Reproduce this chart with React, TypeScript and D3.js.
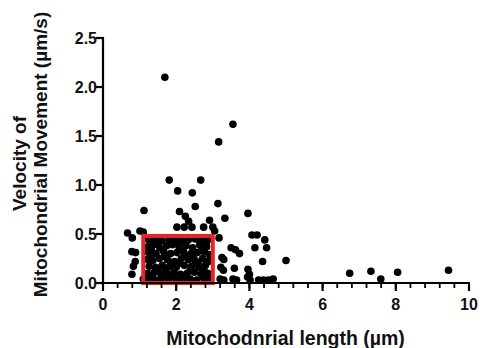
import React from "react";
import * as d3 from "d3";

const xTicks = [0, 2, 4, 6, 8, 10];
const xMinorTicks = d3.range(0, 10.001, 0.4);
const yTicks = [0, 0.5, 1.0, 1.5, 2.0, 2.5];

// points outside the highlighted box [length µm, velocity µm/s]
const outerPoints: [number, number][] = [
  [1.69, 2.1], [3.55, 1.62], [3.16, 1.44], [1.81, 1.05], [2.67, 1.05], [2.04, 0.94], [2.44, 0.92],
  [2.52, 0.78], [3.14, 0.81], [1.12, 0.74], [2.09, 0.73], [2.25, 0.68], [2.34, 0.63], [2.91, 0.64],
  [3.33, 0.66], [3.96, 0.71], [2.02, 0.57], [2.22, 0.57], [2.43, 0.57], [2.75, 0.57], [3.0, 0.57],
  [3.05, 0.53], [3.17, 0.46], [0.67, 0.51], [0.8, 0.46], [1.01, 0.53], [1.1, 0.52], [4.07, 0.49],
  [4.21, 0.49], [4.42, 0.44], [4.15, 0.36], [4.47, 0.36], [3.5, 0.36], [3.62, 0.34], [3.73, 0.3],
  [3.3, 0.24], [3.25, 0.26], [4.36, 0.22], [5.0, 0.23], [3.59, 0.15], [3.96, 0.14], [3.22, 0.16],
  [3.29, 0.13], [0.79, 0.32], [0.89, 0.31], [0.88, 0.22], [0.83, 0.17], [0.79, 0.09], [1.1, 0.04],
  [4.0, 0.09], [6.74, 0.1], [7.32, 0.12], [8.05, 0.11], [9.44, 0.13], [7.59, 0.04],
  [3.2, 0.04], [3.3, 0.03], [3.55, 0.04], [3.65, 0.03], [3.95, 0.06], [4.02, 0.03], [4.25, 0.03],
  [4.38, 0.03], [4.52, 0.03], [4.65, 0.04],
];

// dense cluster inside the highlighted box
const boxPoints: [number, number][] = [
  [1.25, 0.44], [1.43, 0.45], [1.6, 0.43], [1.8, 0.44], [1.97, 0.45], [2.15, 0.43], [2.33, 0.44], [2.52, 0.45], [2.7, 0.43], [2.86, 0.44],
  [1.22, 0.37], [1.38, 0.39], [1.55, 0.36], [1.74, 0.38], [1.9, 0.39], [2.08, 0.37], [2.27, 0.38], [2.45, 0.36], [2.64, 0.39], [2.83, 0.37],
  [1.24, 0.31], [1.45, 0.3], [1.66, 0.32], [1.85, 0.3], [2.02, 0.31], [2.2, 0.32], [2.4, 0.3], [2.58, 0.31], [2.77, 0.32], [2.9, 0.29],
  [1.21, 0.24], [1.36, 0.23], [1.54, 0.25], [1.76, 0.24], [1.96, 0.22], [2.14, 0.25], [2.34, 0.24], [2.52, 0.23], [2.72, 0.25], [2.88, 0.22],
  [1.26, 0.17], [1.44, 0.16], [1.62, 0.18], [1.82, 0.17], [2.0, 0.16], [2.22, 0.18], [2.42, 0.17], [2.62, 0.16], [2.8, 0.18],
  [1.22, 0.1], [1.4, 0.11], [1.58, 0.09], [1.76, 0.1], [1.94, 0.11], [2.12, 0.09], [2.3, 0.1], [2.5, 0.11], [2.68, 0.09], [2.86, 0.1],
  [1.25, 0.04], [1.44, 0.03], [1.62, 0.05], [1.8, 0.04], [2.0, 0.03], [2.18, 0.05], [2.38, 0.04], [2.56, 0.03], [2.75, 0.05], [2.9, 0.04],
  [1.32, 0.34], [1.68, 0.27], [2.06, 0.2], [2.46, 0.27], [2.76, 0.13], [1.5, 0.13], [2.26, 0.06],
  [1.34, 0.07], [1.7, 0.14], [1.88, 0.21], [2.24, 0.28], [2.6, 0.2], [2.82, 0.41], [1.52, 0.41],
  [2.38, 0.13], [2.04, 0.41], [1.3, 0.27], [2.7, 0.35], [1.92, 0.07],
];

const highlightX = [1.1, 3.0];
const highlightY = [0, 0.48];

export default function App() {
  const left = 103, right = 469, top = 38, bottom = 283;
  const x = d3.scaleLinear().domain([0, 10]).range([left, right]);
  const y = d3.scaleLinear().domain([0, 2.5]).range([bottom, top]);
  const font = "'Liberation Sans', Arial, sans-serif";
  const all = [...outerPoints, ...boxPoints];
  const ink = "#111";
  return (
    <svg width={480} height={348} style={{ position: "absolute", left: 0, top: 0, background: "#fff" }}>
      {all.map(([a, b], i) => (
        <circle key={i} cx={x(a)} cy={y(b)} r={3.8} fill="#000" />
      ))}
      <rect
        x={x(highlightX[0])}
        y={y(highlightY[1])}
        width={x(highlightX[1]) - x(highlightX[0])}
        height={y(highlightY[0]) - y(highlightY[1])}
        fill="none"
        stroke="#e5232b"
        strokeWidth={4}
      />
      {/* axes */}
      <line x1={left} x2={left} y1={y(2.5) - 1} y2={bottom + 1} stroke="#000" strokeWidth={2.2} />
      <line x1={left - 1} x2={right + 1} y1={bottom} y2={bottom} stroke="#000" strokeWidth={2.2} />
      {yTicks.map((t) => (
        <g key={t}>
          <line x1={left - 7} x2={left} y1={y(t)} y2={y(t)} stroke="#000" strokeWidth={2.2} />
          <text x={97} y={y(t)} dy="0.36em" textAnchor="end" fontFamily={font} fontWeight="bold" fontSize={16} fill={ink}>
            {d3.format(".1f")(t)}
          </text>
        </g>
      ))}
      {xMinorTicks.map((t, i) => (
        <line key={i} x1={x(t)} x2={x(t)} y1={bottom} y2={bottom + 5} stroke="#000" strokeWidth={1.8} />
      ))}
      {xTicks.map((t) => (
        <g key={t}>
          <line x1={x(t)} x2={x(t)} y1={bottom} y2={bottom + 8} stroke="#000" strokeWidth={2.2} />
          <text x={x(t)} y={310} textAnchor="middle" fontFamily={font} fontWeight="bold" fontSize={16} fill={ink}>
            {t}
          </text>
        </g>
      ))}
      <text x={285.5} y={345} textAnchor="middle" fontFamily={font} fontWeight="bold" fontSize={19.5} fill={ink}>
        Mitochodnrial length (µm)
      </text>
      <text transform="translate(26, 163.5) rotate(-90)" textAnchor="middle" fontFamily={font} fontWeight="bold" fontSize={19} fill={ink}>
        Velocity of
      </text>
      <text transform="translate(47, 154.5) rotate(-90)" textAnchor="middle" fontFamily={font} fontWeight="bold" fontSize={19} fill={ink}>
        Mitochondrial Movement (µm/s)
      </text>
    </svg>
  );
}
